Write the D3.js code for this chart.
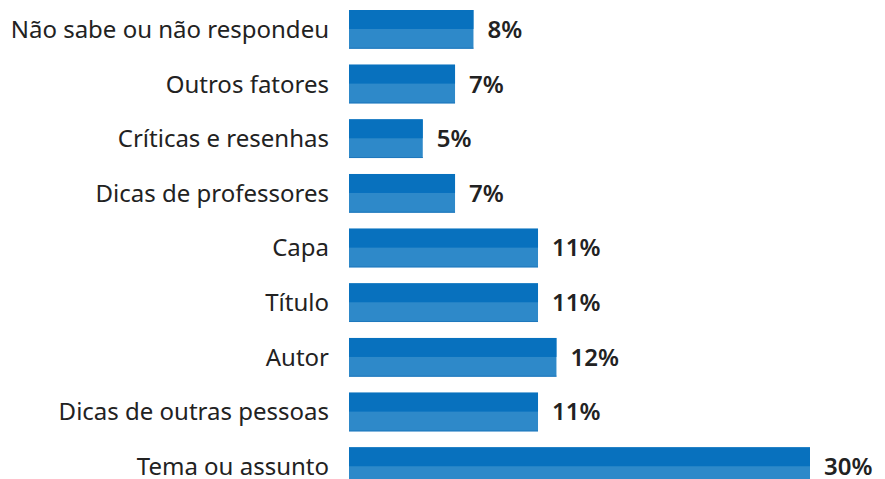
<!DOCTYPE html>
<html>
<head>
<meta charset="utf-8">
<script src="https://cdn.jsdelivr.net/npm/d3@7"></script>
<style>
  body { margin: 0; background: #fff; }
  text { font-family: "Noto Sans", sans-serif; }
</style>
</head>
<body>
<div id="chart"></div>
<script>
// categories, top to bottom
var categories = [
  "Não sabe ou não respondeu",
  "Outros fatores",
  "Críticas e resenhas",
  "Dicas de professores",
  "Capa",
  "Título",
  "Autor",
  "Dicas de outras pessoas",
  "Tema ou assunto"
];

// bar lengths (percent units)
var barValues = [8.1, 6.9, 4.8, 6.9, 12.3, 12.3, 13.5, 12.3, 30];

// printed labels
var valueLabels = ["8%", "7%", "5%", "7%", "11%", "11%", "12%", "11%", "30%"];

var width = 885;
var height = 479;

var data = categories.map(function(c, i) {
  return { name: c, value: barValues[i], label: valueLabels[i] };
});

var svg = d3.select("#chart").append("svg")
  .attr("width", width)
  .attr("height", height);

var x = d3.scaleLinear().domain([0, 30]).range([349, 810]);

var y = d3.scaleBand()
  .domain(categories)
  .range([10, 486])
  .paddingInner(0.292)
  .paddingOuter(0);

var row = svg.selectAll("g.row")
  .data(data)
  .enter().append("g")
  .attr("class", "row")
  .attr("transform", function(d) { return "translate(0," + y(d.name) + ")"; });

var bh = y.bandwidth();

// lighter lower half
row.append("rect")
  .attr("x", x(0))
  .attr("y", 0)
  .attr("width", function(d) { return x(d.value) - x(0); })
  .attr("height", bh)
  .attr("fill", "#2e89c9");

// darker upper half
row.append("rect")
  .attr("x", x(0))
  .attr("y", 0)
  .attr("width", function(d) { return x(d.value) - x(0); })
  .attr("height", bh * 0.49)
  .attr("fill", "#0871be");

// thin edge at bottom
row.append("rect")
  .attr("x", x(0))
  .attr("y", bh - 1)
  .attr("width", function(d) { return x(d.value) - x(0); })
  .attr("height", 1)
  .attr("fill", "#1f78bd");

row.append("text")
  .attr("x", 329)
  .attr("y", bh / 2 + 8.5)
  .attr("text-anchor", "end")
  .attr("font-size", "24px")
  .attr("fill", "#222")
  .text(function(d) { return d.name; });

row.append("text")
  .attr("x", function(d) { return x(d.value) + 14; })
  .attr("y", bh / 2 + 8.5)
  .attr("font-size", "24px")
  .attr("font-weight", 600)
  .attr("fill", "#222")
  .text(function(d) { return d.label; });
</script>
</body>
</html>
